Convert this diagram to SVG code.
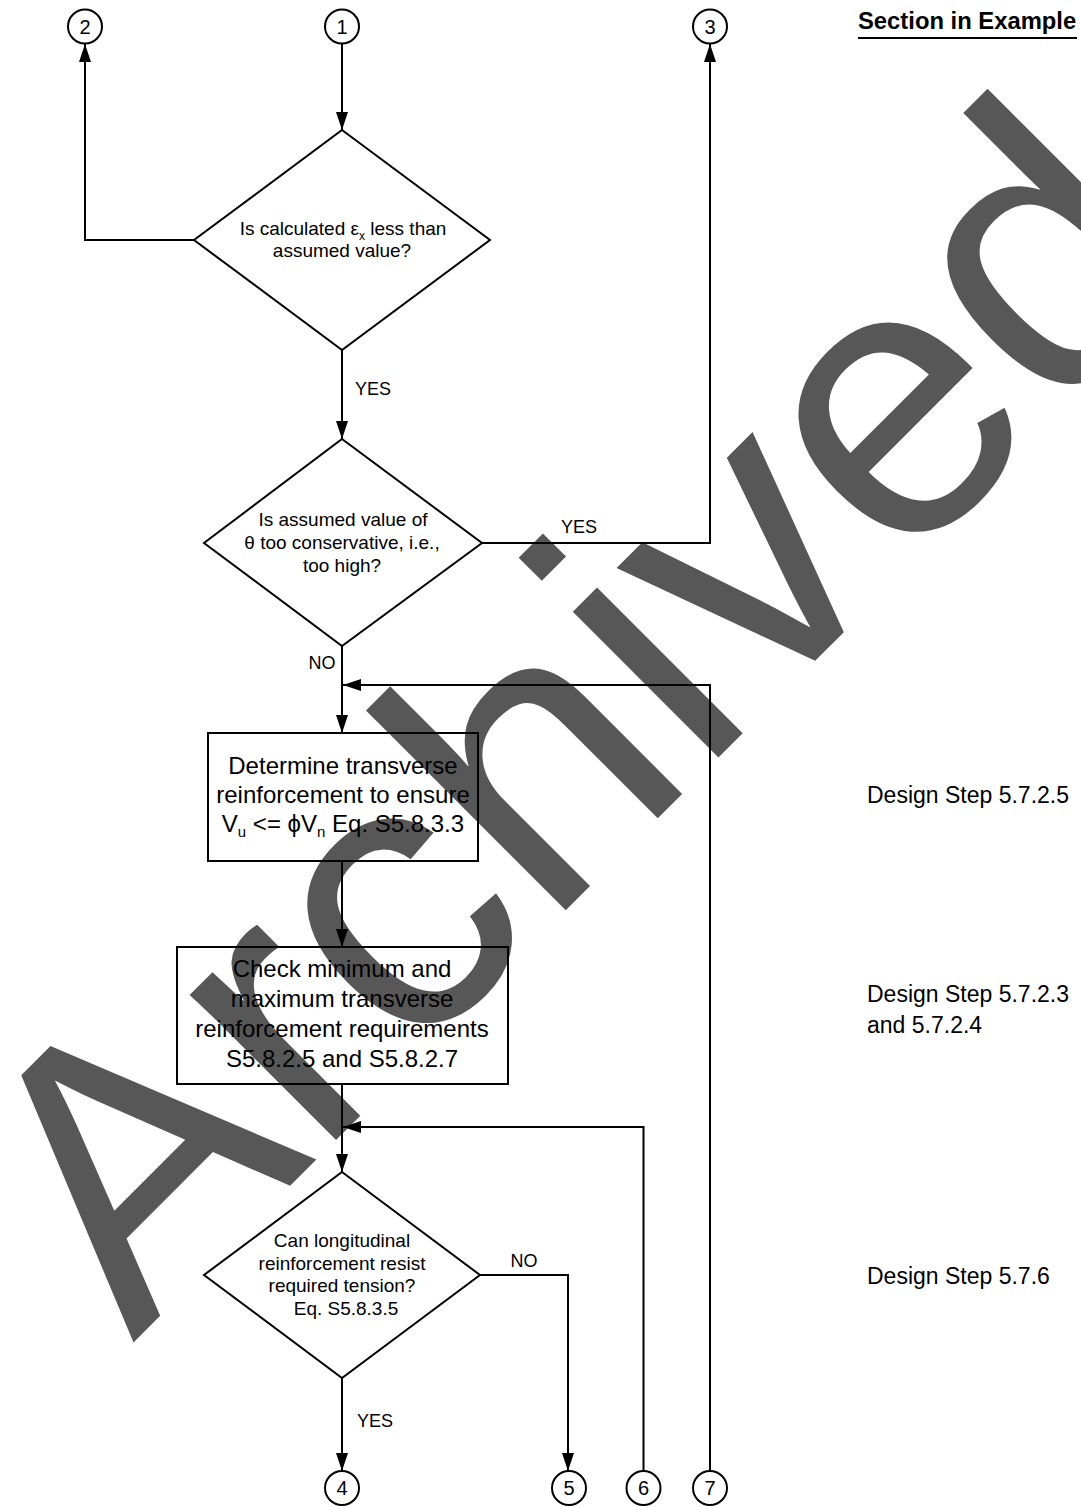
<svg xmlns="http://www.w3.org/2000/svg" width="1081" height="1507" viewBox="0 0 1081 1507">
<style>
text{font-family:"Liberation Sans",Arial,sans-serif;fill:#000}
.wm{font-size:390px;fill:#575757}
.dt{font-size:19px;text-anchor:middle}
.bt{font-size:24px;text-anchor:middle}
.lb{font-size:18px;text-anchor:middle}
.cn{font-size:20px;text-anchor:middle}
.rt{font-size:23px}
.shape{fill:none;stroke:#000;stroke-width:2}
.ln{fill:none;stroke:#000;stroke-width:2}
.arr{marker-end:url(#ah)}
</style>
<defs>
<marker id="ah" viewBox="0 0 18 12" refX="18" refY="6" markerWidth="18" markerHeight="12" orient="auto" markerUnits="userSpaceOnUse">
<path d="M0,0 L18,6 L0,12 z" fill="#000"/>
</marker>
</defs>
<rect width="1081" height="1507" fill="#fff"/>
<text class="wm" x="133" y="1343" transform="rotate(-45 133 1343)">Archived</text>

<g id="connectors">
<path class="ln arr" d="M342,44 L342,130"/>
<path class="ln arr" d="M194,240 L85,240 L85,44"/>
<path class="ln arr" d="M342,350 L342,439"/>
<path class="ln arr" d="M482,543 L710,543 L710,44"/>
<path class="ln arr" d="M342,646 L342,733"/>
<path class="ln arr" d="M710,1471 L710,685 L343,685"/>
<path class="ln arr" d="M342,861 L342,947"/>
<path class="ln arr" d="M342,1084 L342,1172"/>
<path class="ln arr" d="M643.5,1471 L643.5,1127 L343,1127"/>
<path class="ln arr" d="M342,1378 L342,1471"/>
<path class="ln arr" d="M480,1275 L568,1275 L568,1471"/>
<text class="lb" x="373" y="395">YES</text>
<text class="lb" x="579" y="533">YES</text>
<text class="lb" x="322" y="669">NO</text>
<text class="lb" x="524" y="1267">NO</text>
<text class="lb" x="375" y="1427">YES</text>
</g>

<g id="c1"><circle class="shape" cx="342" cy="26.5" r="17"/><text class="cn" x="342" y="33.5">1</text></g>
<g id="c2"><circle class="shape" cx="85" cy="26.5" r="17"/><text class="cn" x="85" y="33.5">2</text></g>
<g id="c3"><circle class="shape" cx="710" cy="26.5" r="17"/><text class="cn" x="710" y="33.5">3</text></g>
<g id="c4"><circle class="shape" cx="342" cy="1488" r="17"/><text class="cn" x="342" y="1495">4</text></g>
<g id="c5"><circle class="shape" cx="569" cy="1488" r="17"/><text class="cn" x="569" y="1495">5</text></g>
<g id="c6"><circle class="shape" cx="643.5" cy="1488" r="17"/><text class="cn" x="643.5" y="1495">6</text></g>
<g id="c7"><circle class="shape" cx="710" cy="1488" r="17"/><text class="cn" x="710" y="1495">7</text></g>

<g id="d1">
<polygon class="shape" points="342,130 490,240 342,350 194,240"/>
<text class="dt" x="343" y="235">Is calculated ε<tspan font-size="12" dy="5">x</tspan><tspan dy="-5"> less than</tspan></text>
<text class="dt" x="342" y="257">assumed value?</text>
</g>

<g id="d2">
<polygon class="shape" points="342,439 482,543 342,646 204,543"/>
<text class="dt" x="343" y="526">Is assumed value of</text>
<text class="dt" x="342" y="549">θ too conservative, i.e.,</text>
<text class="dt" x="342" y="572">too high?</text>
</g>

<g id="b1">
<rect class="shape" x="208" y="733" width="270" height="128"/>
<text class="bt" x="343" y="774">Determine transverse</text>
<text class="bt" x="343" y="803">reinforcement to ensure</text>
<text class="bt" x="343" y="832">V<tspan font-size="15" dy="5">u</tspan><tspan dy="-5"> &lt;= ϕV</tspan><tspan font-size="15" dy="5">n</tspan><tspan dy="-5"> Eq. S5.8.3.3</tspan></text>
</g>

<g id="b2">
<rect class="shape" x="177" y="947" width="331" height="137"/>
<text class="bt" x="342" y="977">Check minimum and</text>
<text class="bt" x="342" y="1007">maximum transverse</text>
<text class="bt" x="342" y="1037">reinforcement requirements</text>
<text class="bt" x="342" y="1067">S5.8.2.5 and S5.8.2.7</text>
</g>

<g id="d3">
<polygon class="shape" points="342,1172 480,1275 342,1378 204,1275"/>
<text class="dt" x="342" y="1247">Can longitudinal</text>
<text class="dt" x="342" y="1269.5">reinforcement resist</text>
<text class="dt" x="342" y="1292">required tension?</text>
<text class="dt" x="346" y="1314.5">Eq. S5.8.3.5</text>
</g>

<g id="sections">
<text x="858" y="29" font-size="23.8" font-weight="bold">Section in Example</text>
<line x1="858" y1="38" x2="1077" y2="38" stroke="#000" stroke-width="2"/>
<text class="rt" x="867" y="803">Design Step 5.7.2.5</text>
<text class="rt" x="867" y="1002">Design Step 5.7.2.3</text>
<text class="rt" x="867" y="1033">and 5.7.2.4</text>
<text class="rt" x="867" y="1284">Design Step 5.7.6</text>
</g>
</svg>
